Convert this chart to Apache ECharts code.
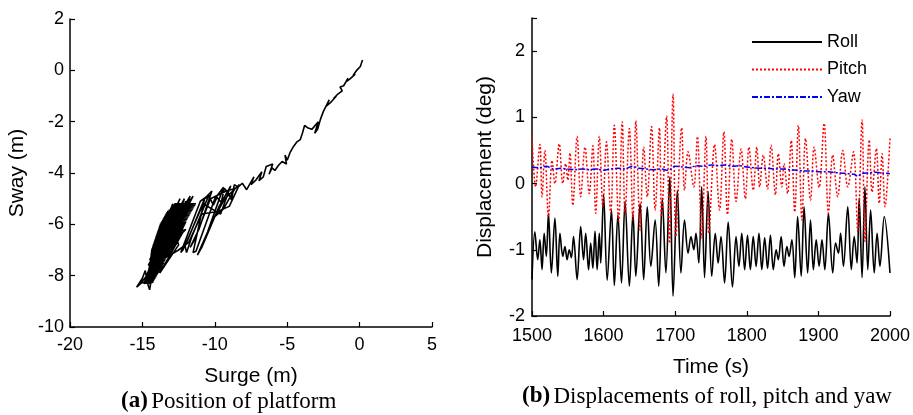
<!DOCTYPE html>
<html>
<head>
<meta charset="utf-8">
<script src="https://cdn.jsdelivr.net/npm/echarts@6/dist/echarts.min.js"></script>
<style>
html,body{margin:0;padding:0;background:#fff;}
#chart{width:913px;height:415px;}
</style>
</head>
<body>
<div id="chart"></div>
<script>
// ---- Panel (a): platform position (surge, sway) in m ----
const surgeSway = [
  [0.2,0.4],[0.05,0.15],[-0.2,0.0],[-0.45,-0.2],[-0.3,-0.15],[-0.7,-0.35],[-0.95,-0.45],[-0.8,-0.3],
  [-1.1,-0.6],[-1.35,-0.65],[-1.2,-0.8],[-1.55,-0.95],[-1.8,-1.1],[-1.6,-1.0],[-2.0,-1.25],[-2.3,-1.4],
  [-2.1,-1.15],[-2.5,-1.6],[-2.7,-1.9],[-2.9,-2.3],[-3.1,-2.45],[-2.85,-2.0],[-3.3,-2.3],[-3.55,-2.25],
  [-3.8,-2.15],[-3.95,-2.45],[-4.1,-2.7],[-4.35,-2.8],[-4.6,-3.0],[-4.8,-3.2],[-5.0,-3.5],[-5.15,-3.3],
  [-5.05,-3.65],[-5.35,-3.55],[-5.6,-3.7],[-5.85,-3.9],[-6.05,-3.8],[-6.25,-4.05],[-6.0,-3.65],[-6.45,-3.75],
  [-6.65,-4.15],[-6.95,-4.3],[-6.75,-3.95],[-7.2,-4.3],[-7.5,-4.45],[-7.3,-4.15],[-7.8,-4.65],[-8.1,-4.4],
  [-8.4,-4.55],[-8.65,-4.45],[-8.85,-5.05],[-9.1,-4.75],[-9.35,-4.6],[-9.55,-5.15],[-9.85,-4.95],[-10.1,-5.25],
  [-10.4,-4.9],[-10.7,-5.0],
  [-11.5,-7.1],[-11.3,-7.05],[-10.0,-5.0],[-9.4,-4.55],[-10.5,-6.3],[-11.2,-7.2],[-10.9,-6.9],[-9.7,-5.3],
  [-8.9,-4.5],[-9.6,-5.6],[-10.8,-5.2],[-12.2,-7.0],[-12.35,-7.1],[-11.0,-5.1],[-10.4,-4.85],[-11.6,-6.5],
  [-11.95,-7.1],[-12.05,-6.85],[-10.7,-5.0],[-10.2,-4.7],[-11.1,-6.2],[-11.7,-6.9],[-11.4,-6.6],[-10.3,-5.0],
  [-9.2,-4.7],[-8.6,-4.6],[-9.4,-5.4],[-10.0,-5.7],[-9.3,-5.0],[-8.3,-4.45],[-9.0,-5.3],[-9.8,-5.5],
  [-10.9,-5.6],[-11.8,-6.7],[-12.5,-7.0],
  [-14.3,-7.6],[-12.3,-5.3],[-14.0,-7.5],[-12.0,-5.1],[-14.4,-7.9],[-12.6,-5.5],[-13.9,-7.2],[-11.8,-5.2],
  [-14.2,-7.4],[-12.4,-5.6],[-14.6,-8.0],[-12.8,-5.4],[-13.6,-7.3],[-11.6,-5.0],[-14.1,-7.7],[-12.2,-5.7],
  [-14.5,-7.7],[-12.9,-5.7],[-13.4,-7.2],[-11.9,-5.4],[-13.8,-7.6],[-12.5,-5.2],[-14.7,-8.2],[-13.0,-6.0],
  [-14.0,-7.0],[-12.1,-5.0],[-13.5,-7.4],[-12.7,-6.1],[-14.3,-7.3],[-11.7,-4.9],[-13.2,-7.3],[-12.0,-5.9],
  [-13.9,-6.8],[-12.4,-5.0],[-14.4,-7.5],[-13.1,-6.4],[-13.7,-7.8],[-12.2,-6.3],[-14.2,-7.1],[-11.5,-4.9],
  [-13.3,-6.9],[-12.6,-6.5],[-14.8,-8.1],[-13.4,-6.3],[-14.1,-7.9],[-12.3,-5.9],[-13.6,-7.0],[-12.9,-5.2],
  [-14.5,-7.4],[-12.7,-5.8],[-13.8,-7.9],[-12.5,-6.8],[-13.1,-5.8],[-14.0,-7.3],[-12.0,-6.2],[-13.5,-6.5],
  [-14.6,-7.6],[-13.2,-6.8],[-12.2,-5.5],[-13.7,-6.6],[-14.3,-8.0],[-13.0,-7.0],[-11.9,-5.7],[-13.3,-6.2],
  [-14.9,-8.3],[-14.25,-8.25],[-14.83,-8.2],[-14.15,-8.15],[-14.77,-8.1],[-14.05,-8.05],[-14.7,-8.0],[-13.95,-7.95],
  [-14.66,-7.9],[-13.85,-7.85],[-14.62,-7.8],[-13.75,-7.75],[-14.58,-7.7],[-13.65,-7.65],[-14.54,-7.6],[-13.55,-7.55],
  [-14.5,-7.5],[-13.46,-7.45],[-14.48,-7.4],[-13.38,-7.35],[-14.46,-7.3],[-13.3,-7.25],[-14.44,-7.2],[-13.22,-7.15],
  [-14.42,-7.1],[-13.14,-7.05],[-14.4,-7.0],[-13.05,-6.95],[-14.34,-6.9],[-12.95,-6.85],[-14.28,-6.8],[-12.85,-6.75],
  [-14.22,-6.7],[-12.75,-6.65],[-14.16,-6.6],[-12.65,-6.55],[-14.1,-6.5],[-12.55,-6.45],[-14.04,-6.4],[-12.45,-6.35],
  [-13.98,-6.3],[-12.35,-6.25],[-13.92,-6.2],[-12.25,-6.15],[-13.86,-6.1],[-12.15,-6.05],[-13.8,-6.0],[-12.05,-5.95],
  [-13.7,-5.9],[-11.95,-5.85],[-13.6,-5.8],[-11.85,-5.75],[-13.5,-5.7],[-11.75,-5.65],[-13.4,-5.6],[-11.65,-5.55],
  [-13.3,-5.5],[-11.55,-5.45],[-13.1,-5.4],[-11.45,-5.35],[-12.9,-5.3],[-11.35,-5.25],[-12.8,-5.2],
  [-11.3,-5.2],[-12.85,-5.25],[-11.4,-5.3],[-13.0,-5.35],[-11.5,-5.4],[-13.2,-5.45],[-11.6,-5.5],[-13.35,-5.55],
  [-11.7,-5.6],[-13.45,-5.65],[-11.8,-5.7],[-13.55,-5.75],[-11.9,-5.8],[-13.65,-5.85],[-12.0,-5.9],[-13.75,-5.95],
  [-12.1,-6.0],[-13.83,-6.05],[-12.2,-6.1],[-13.89,-6.15],[-12.3,-6.2],[-13.95,-6.25],[-12.4,-6.3],[-14.01,-6.35],
  [-12.5,-6.4],[-14.07,-6.45],[-12.6,-6.5],[-14.13,-6.55],[-12.7,-6.6],[-14.19,-6.65],[-12.8,-6.7],[-14.25,-6.75],
  [-12.9,-6.8],[-14.31,-6.85],[-13.0,-6.9],[-14.37,-6.95],[-13.1,-7.0],[-14.41,-7.05],[-13.18,-7.1],[-14.43,-7.15],
  [-13.26,-7.2],[-14.45,-7.25],[-13.34,-7.3],[-14.47,-7.35],[-13.42,-7.4],[-14.49,-7.45],[-13.5,-7.5],[-14.52,-7.55],
  [-13.6,-7.6],[-14.56,-7.65],[-13.7,-7.7],[-14.6,-7.75],[-13.8,-7.8],[-14.64,-7.85],[-13.9,-7.9],[-14.68,-7.95],
  [-14.0,-8.0],[-14.73,-8.05],[-14.1,-8.1],[-14.8,-8.15],[-14.2,-8.2],[-14.86,-8.25],
  [-15.1,-8.3],[-15.4,-8.45],[-15.0,-8.1],[-14.8,-7.8],[-14.65,-8.3],[-14.5,-8.55],[-14.4,-8.2],[-14.2,-7.9],
  [-14.45,-8.35],[-14.7,-8.0],[-15.2,-8.35]
];

// ---- Panel (b): time series, [time (s), displacement (deg)] at local extrema ----
const roll = [
  [1500,-1.45],[1504,-0.73],[1508,-1.15],[1511,-0.85],[1514,-1.30],[1517,-0.75],[1520,-1.10],[1523,-0.45],
  [1527,-1.35],[1532,-0.52],[1536,-1.40],[1539,-0.75],[1543,-1.10],[1546,-0.95],[1549,-1.15],[1552,-1.00],
  [1555,-1.12],[1558,-0.80],[1563,-1.45],[1568,-0.65],[1572,-1.15],[1575,-0.75],[1579,-1.30],[1582,-0.90],
  [1585,-1.28],[1588,-0.72],[1591,-1.30],[1594,-0.75],[1596,-1.20],[1600,-0.17],[1605,-1.46],[1611,-0.40],
  [1615,-1.54],[1620,-0.47],[1625,-1.50],[1630,-0.27],[1636,-1.55],[1641,-0.45],[1645,-1.40],[1651,-0.30],
  [1656,-1.45],[1661,-0.35],[1666,-1.25],[1672,-0.55],[1677,-1.55],[1682,-0.22],[1687,-1.35],[1692.5,0.10],
  [1697,-1.70],[1703,-0.10],[1708,-1.35],[1713,-0.55],[1718,-1.05],[1722,-0.80],[1726,-1.00],[1729,-0.75],
  [1733,-1.20],[1737,-0.05],[1741,-1.42],[1746,-0.12],[1751,-1.40],[1756,-0.75],[1760,-1.20],[1764,-0.80],
  [1769,-1.50],[1774,-0.58],[1780,-1.56],[1785,-0.80],[1789,-1.25],[1793,-0.75],[1797,-1.30],[1801,-0.78],
  [1805,-1.30],[1809,-0.80],[1813,-1.25],[1817,-0.75],[1821,-1.30],[1825,-0.82],[1829,-1.28],[1833,-0.78],
  [1837,-1.30],[1841,-1.00],[1844,-1.15],[1848,-0.80],[1852,-1.25],[1856,-0.95],[1859,-1.10],[1863,-0.85],
  [1867,-1.42],[1871,-0.50],[1876,-1.40],[1880,-0.35],[1885,-1.35],[1889,-0.55],[1893,-1.30],[1897,-0.85],
  [1901,-1.25],[1905,-0.85],[1909,-1.30],[1914,-0.45],[1920,-1.35],[1924,-0.90],[1928,-1.05],[1931,-0.75],
  [1935,-1.25],[1941,-0.35],[1946,-1.30],[1950,-0.80],[1954,-1.20],[1957,-0.22],[1961,-1.42],[1965,-0.05],
  [1969,-1.30],[1973,-0.40],[1978,-1.35],[1982,-0.75],[1986,-1.25],[1992,-0.50],[2000,-1.35]
];
const pitch = [
  [1500,0.71],[1505,-0.05],[1511,0.59],[1514,-0.20],[1518,0.50],[1523,-0.50],[1528,0.35],[1532,0.00],
  [1538,0.60],[1543,0.00],[1547,0.30],[1550,0.05],[1553,0.46],[1557,-0.33],[1563,0.71],[1568,-0.20],
  [1574,0.55],[1580,-0.15],[1585,0.57],[1589,-0.45],[1594,0.71],[1599,-0.35],[1604,0.63],[1610,-0.45],
  [1615,0.88],[1621,-0.57],[1626,0.93],[1630,-0.45],[1636,0.83],[1641,-0.55],[1645,0.95],[1651,-0.70],
  [1656,0.55],[1661,-0.20],[1667,0.86],[1672,-0.40],[1678,0.84],[1681,-0.50],[1688,1.02],[1692,-0.90],
  [1697,1.35],[1701,-0.80],[1709,0.84],[1713,-0.10],[1718,0.48],[1726,-0.05],[1731,0.71],[1737,-0.82],
  [1743,0.71],[1747,-0.75],[1755,0.59],[1762,-0.40],[1768,0.78],[1773,-0.47],[1779,0.67],[1785,-0.27],
  [1792,0.52],[1798,-0.23],[1803,0.55],[1809,-0.10],[1814,0.55],[1818,-0.05],[1823,0.43],[1829,-0.08],
  [1834,0.58],[1840,-0.17],[1844,0.45],[1849,-0.05],[1852,0.30],[1857,-0.15],[1862,0.65],[1867,-0.43],
  [1872,0.88],[1877,-0.55],[1882,0.68],[1889,-0.25],[1894,0.55],[1901,-0.06],[1908,0.91],[1914,-0.45],
  [1920,0.43],[1927,-0.20],[1934,0.50],[1941,-0.05],[1949,0.48],[1955,-0.72],[1961,0.96],[1965,-0.87],
  [1971,0.66],[1975,-0.13],[1981,0.53],[1985,-0.30],[1989,0.45],[1993,-0.35],[2000,0.68]
];
const yaw = [
  [1500,0.25],[1510,0.24],[1520,0.26],[1530,0.22],[1540,0.23],[1550,0.22],[1560,0.21],[1570,0.22],
  [1580,0.21],[1590,0.22],[1600,0.20],[1610,0.22],[1620,0.23],[1630,0.22],[1640,0.26],[1650,0.23],
  [1660,0.22],[1670,0.21],[1680,0.22],[1690,0.20],[1700,0.26],[1710,0.25],[1720,0.24],[1730,0.27],
  [1740,0.26],[1750,0.28],[1760,0.27],[1770,0.28],[1780,0.26],[1790,0.27],[1800,0.25],[1810,0.24],
  [1820,0.23],[1830,0.23],[1840,0.22],[1850,0.22],[1860,0.21],[1870,0.20],[1880,0.19],[1890,0.19],
  [1900,0.18],[1910,0.18],[1920,0.17],[1930,0.16],[1940,0.15],[1950,0.14],[1955,0.11],[1960,0.15],
  [1970,0.16],[1980,0.17],[1990,0.16],[2000,0.15]
];
const seriesNames = ['Roll','Pitch','Yaw'];
const captionA = ['(a)','Position of platform'];
const captionB = ['(b)','Displacements of roll, pitch and yaw'];

const SANS = "'Liberation Sans', Arial, Helvetica, sans-serif";
const SERIF = "'Liberation Serif', 'Times New Roman', serif";

const axisCommon = {
  axisLine: {show: true, onZero: false, lineStyle: {color: '#000', width: 1.5}},
  axisTick: {show: true, inside: true, length: 5, lineStyle: {color: '#000', width: 1.2}},
  splitLine: {show: false},
  nameLocation: 'middle',
  nameTextStyle: {fontFamily: SANS, fontSize: 21, color: '#000'}
};
function lbl(size, extra) {
  return Object.assign({color: '#000', fontFamily: SANS, fontSize: size, formatter: v => String(v)}, extra || {});
}

const chart = echarts.init(document.getElementById('chart'));
chart.setOption({
  backgroundColor: '#fff',
  animation: false,
  grid: [
    {left: 70, right: 913 - 432, top: 19, bottom: 415 - 327},
    {left: 532, right: 21, top: 18, bottom: 415 - 316}
  ],
  xAxis: [
    Object.assign({}, axisCommon, {
      type: 'value', gridIndex: 0, min: -20, max: 5, interval: 5,
      name: 'Surge (m)', nameGap: 39,
      axisLabel: lbl(18, {margin: 9})
    }),
    Object.assign({}, axisCommon, {
      type: 'value', gridIndex: 1, min: 1500, max: 2000, interval: 100,
      name: 'Time (s)', nameGap: 41,
      axisLabel: lbl(18, {margin: 11})
    })
  ],
  yAxis: [
    Object.assign({}, axisCommon, {
      type: 'value', gridIndex: 0, min: -10, max: 2, interval: 2,
      name: 'Sway (m)', nameGap: 42,
      axisLabel: lbl(18, {margin: 6})
    }),
    Object.assign({}, axisCommon, {
      type: 'value', gridIndex: 1, min: -2, max: 2.5, interval: 1,
      name: 'Displacement (deg)', nameGap: 36,
      axisLabel: lbl(18, {margin: 7, formatter: v => (Number.isInteger(v) ? String(v) : '')})
    })
  ],
  legend: {
    data: seriesNames,
    orient: 'vertical',
    left: 746, top: 28,
    itemWidth: 70, itemHeight: 14, itemGap: 9.5,
    itemStyle: {opacity: 0},
    textStyle: {fontFamily: SANS, fontSize: 18, color: '#000', lineHeight: 18}
  },
  series: [
    {
      type: 'line', xAxisIndex: 0, yAxisIndex: 0, data: surgeSway,
      symbol: 'none', silent: true,
      lineStyle: {color: '#000', width: 1.6}
    },
    {
      name: seriesNames[0], type: 'line', xAxisIndex: 1, yAxisIndex: 1, data: roll,
      symbol: 'none', smooth: 0.35, color: '#000',
      lineStyle: {color: '#000', width: 1.6}
    },
    {
      name: seriesNames[1], type: 'line', xAxisIndex: 1, yAxisIndex: 1, data: pitch,
      symbol: 'none', smooth: 0.35, color: '#ff0000',
      lineStyle: {color: '#ff0000', width: 1.5, type: [2, 2]}
    },
    {
      name: seriesNames[2], type: 'line', xAxisIndex: 1, yAxisIndex: 1, data: yaw,
      symbol: 'none', smooth: 0.3, color: '#0000ff',
      lineStyle: {color: '#0000ff', width: 1.5, type: [6, 2, 2, 2]}
    }
  ],
  graphic: [
    {
      type: 'text', left: 121, top: 390,
      style: {
        text: '{b|' + captionA[0] + '} {n|' + captionA[1] + '}',
        rich: {
          b: {fontFamily: SERIF, fontSize: 23, fontWeight: 'bold', fill: '#000'},
          n: {fontFamily: SERIF, fontSize: 23, fill: '#000'}
        }
      }
    },
    {
      type: 'text', left: 522, top: 385,
      style: {
        text: '{b|' + captionB[0] + '} {n|' + captionB[1] + '}',
        rich: {
          b: {fontFamily: SERIF, fontSize: 23, fontWeight: 'bold', fill: '#000'},
          n: {fontFamily: SERIF, fontSize: 23, fill: '#000'}
        }
      }
    }
  ]
});
</script>
</body>
</html>
